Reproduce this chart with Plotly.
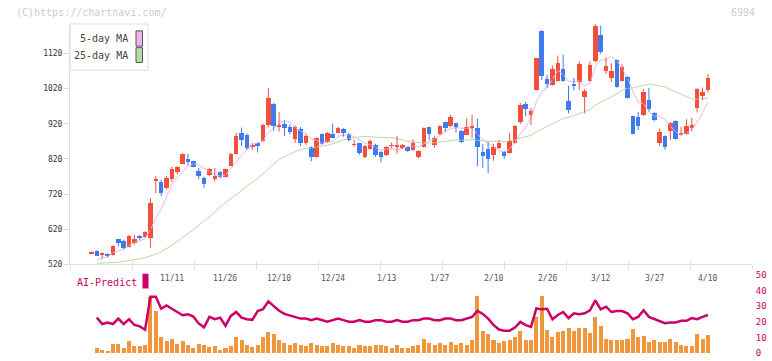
import plotly.graph_objects as go

# ---------------- data ----------------
idx = list(range(116))
opens = [552,559,549,549,546,591,587,570,580,600,598,596,759,755,737,762,782,807,821,813,
         787,767,773,762,783,770,800,835,893,889,856,864,871,916,977,911,919,911,878,905,
         865,854,826,890,868,890,895,906,892,860,865,825,849,861,840,831,857,854,852,854,
         846,825,854,910,859,890,924,913,921,900,889,909,907,840,847,832,851,840,837,866,
         925,977,944,1017,1185,1047,1031,1043,1077,985,1033,1038,995,1043,1099,1172,1071,1050,1101,1043,
         1053,941,938,945,988,952,866,885,899,928,888,891,907,964,998,1017]
highs = [556,560,554,551,574,593,590,603,604,603,614,708,771,761,771,798,800,836,834,815,
         795,770,794,794,785,793,837,895,909,892,865,866,920,1022,979,953,929,918,915,911,
         890,856,881,893,897,921,911,908,894,875,866,860,874,863,842,856,867,885,862,855,
         876,845,910,912,885,916,926,946,923,902,935,946,935,862,868,863,874,842,893,917,
         979,982,965,1108,1187,1060,1086,1114,1117,1028,1050,1098,1019,1098,1206,1199,1109,1092,1103,1089,
         1055,943,954,1019,1022,954,906,887,924,930,911,933,937,1021,1023,1061]
lows = [550,544,538,541,545,571,563,568,576,589,596,566,722,714,733,754,776,805,802,796,
        762,738,771,756,764,767,799,833,857,846,846,838,869,910,900,898,885,890,866,856,
        860,813,824,860,866,880,893,883,870,855,832,823,847,826,810,829,849,835,848,840,
        844,822,852,874,853,888,897,910,895,866,888,879,800,795,780,815,848,820,836,864,
        919,941,916,1015,1044,1022,1029,1040,1040,950,1015,1016,950,1040,1095,1119,1062,1039,1023,1040,
        992,890,902,942,955,927,857,846,874,875,886,889,898,952,987,1009]
closes = [554,545,553,543,573,580,566,601,593,595,611,694,764,722,766,790,798,834,811,798,
          772,748,792,772,770,791,835,886,874,851,858,858,918,994,913,915,907,898,910,865,
          886,825,879,862,893,881,908,893,873,862,837,858,872,831,825,854,859,860,859,843,
          865,842,907,890,879,914,907,938,910,868,912,911,854,829,820,854,865,827,872,915,
          974,961,957,1106,1057,1033,1075,1093,1043,959,1029,1090,1012,1087,1197,1125,1084,1069,1025,1082,
          994,891,914,1011,961,930,898,855,922,877,895,913,918,1019,1011,1050]
ma5 = [None,533,537,541,553.6,558.8,563.0,572.6,582.6,587.0,593.2,618.8,651.4,677.2,711.4,747.2,768.0,782.0,799.8,806.2,
       802.6,792.6,784.2,776.4,770.8,774.6,792.0,810.8,831.2,847.4,860.8,865.4,871.8,895.8,908.2,919.6,929.4,925.4,908.6,899.0,
       893.2,876.8,873.0,863.4,869.0,868.0,884.6,887.4,889.6,883.4,874.6,864.6,860.4,852.0,844.6,848.0,848.2,845.8,851.4,855.0,
       857.2,853.8,863.2,869.4,876.6,886.4,899.4,905.6,909.6,907.4,907.0,907.8,891.0,874.8,865.2,853.6,844.4,839.0,847.6,866.6,
       890.6,909.8,935.8,982.6,1011.0,1022.8,1045.6,1072.8,1060.2,1040.6,1039.8,1042.8,1026.6,1035.4,1083.0,1102.2,1101.0,1112.4,1100.0,1077.0,
       1050.8,1012.2,981.2,978.4,954.2,941.4,942.8,931.0,913.2,896.4,889.4,892.4,905.0,924.4,951.2,980.2]
ma25 = [None,523,523,524,525,526,528,530,533,536,539,543,549,556,564,574,585,596,607,619,
        631,643,655,668,684,695,706,718,730,742,753,765,778,793,806,818,827,833,841,846,
        850,851,853,855,859,863,869,874,878,881,883,884,884,882,881,881,881,878,873,870,
        868,866,866,865,866,867,870,872,874,873,875,875,873,871,870,870,871,869,871,874,
        879,883,887,897,905,912,921,929,935,938,943,950,953,960,973,982,989,997,1005,1016,
        1021,1022,1026,1031,1033,1031,1029,1025,1017,1010,1005,998,991,990,992,993]
volume = [0,3.0,1.9,1.3,5.5,5.5,3.0,7.4,4.2,4.0,5.0,35.9,26.4,10.1,7.4,8.6,5.7,7.4,4.9,2.8,
          5.3,4.9,3.8,4.2,1.7,3.0,4.4,9.9,8.0,4.9,3.8,4.9,10,13,12,8,6,5,6,5,
          4,6,5,4,4,6,5,4,4,3,5,4,4,5,5,4,3,5,3,3,
          4,5,9,6,5,6,5,7,5,6,5,8,36,14,12,8,6,7.4,8.0,10.1,
          13.6,8.0,8.0,22.7,36.3,14.3,10.1,13.2,13.8,15.7,13.6,15.7,15.7,12.6,23.1,17.0,8.6,8.0,8.0,8.0,
          8.6,14.9,10.1,10.5,6.7,8.0,6.7,6.7,8.6,6.7,4.8,4.2,4.2,11.8,8.6,11.1]
ai_predict = [None,22.6,18.5,19.5,18.5,22.0,18.5,21.6,17.9,17.0,14.9,36.0,36.0,28.3,30.4,28.3,26.2,24.1,24.8,23.3,
              18.9,16.4,23.1,21.6,22.6,17.4,23.7,26.2,22.6,21.6,21.2,26.8,28,33,30,27,25,24,23,22,
              22,21,22,21,20,21,22,21,20,20,21,20,20,21,21,20,20,21,20,20,
              21,21,22,22,21,21,22,22,21,21,22,23,27,25,22,18,15,14.3,14.3,16.3,
              19.9,17.8,16.7,28.5,27.9,28.3,21.6,24.3,26.2,22.3,25.4,24.8,25.4,27.3,33.6,27.9,29.6,26.2,26.8,26.8,
              25.4,21.6,23.1,27.3,23.1,21.6,20.6,19.1,19.5,19.5,20.6,20.6,22.3,21.6,23.1,24.3]
tick_idx = [15,25,35,45,55,65,75,85,95,105,115]
tick_labels = ['11/11','11/26','12/10','12/24','1/13','1/27','2/10','2/26','3/12','3/27','4/10']
price_ticks = [520,620,720,820,920,1020,1120]
sub_ticks = [0,10,20,30,40,50]

# ---------------- style ----------------
RED = '#f0503c'
BLUE = '#3f7bef'
ORANGE = '#f0963c'
CRIMSON = '#cc0066'
PINK = '#ecb4ec'
GREEN = '#b4dca4'
GRID = '#dddddd'
FONT = 'DejaVu Sans Mono'

W, H = 772, 361
ML, MR, MT, MB = 70, 20, 24, 3
PW, PH = W - ML - MR, H - MT - MB

def px(xp):
    return (xp - ML) / PW

def py(yp):
    return (H - MB - yp) / PH

XR = [-4.01, 123.23]
equal_ticks = [XR[0] + k * (XR[1] - XR[0]) / 11 for k in range(12)]

# candle geometry derived from the OHLC lists
body_base = [min(o, c) for o, c in zip(opens, closes)]
body_len = [max(abs(c - o), 1.5) for o, c in zip(opens, closes)]
body_col = [RED if c >= o else BLUE for o, c in zip(opens, closes)]

def wick_xy(up):
    xs, ys = [], []
    for i, o, h, l, c in zip(idx, opens, highs, lows, closes):
        if (c >= o) == up:
            xs += [i, i, None]
            ys += [l, h, None]
    return xs, ys

fig = go.Figure()
fig.add_trace(go.Scatter(x=idx, y=ma25, mode='lines', line=dict(color=GREEN, width=1),
                         name='25-day MA', hoverinfo='skip'))
fig.add_trace(go.Scatter(x=idx, y=ma5, mode='lines', line=dict(color=PINK, width=1),
                         name='5-day MA', hoverinfo='skip'))
for up, col in ((True, RED), (False, BLUE)):
    wx, wy = wick_xy(up)
    fig.add_trace(go.Scatter(x=wx, y=wy, mode='lines', line=dict(color=col, width=1),
                             hoverinfo='skip', name='range'))
fig.add_trace(go.Bar(x=idx, y=body_len, base=body_base, width=0.84,
                     marker=dict(color=body_col, line=dict(width=0)), name='6994'))
fig.add_trace(go.Bar(x=idx, y=volume, marker=dict(color=ORANGE, line=dict(width=0)), width=0.75,
                     xaxis='x2', yaxis='y2', name='volume'))
fig.add_trace(go.Scatter(x=idx, y=ai_predict, mode='lines', line=dict(color=CRIMSON, width=2.5),
                         xaxis='x2', yaxis='y2', name='AI-Predict'))
fig.add_trace(go.Scatter(x=[None], y=[None], xaxis='x3', yaxis='y', showlegend=False, hoverinfo='skip'))

main_bottom = py(268)
sub_top = py(272)
sub_range = [0, (358 - 272) / 1.588]

fig.update_layout(
    width=W, height=H, margin=dict(l=ML, r=MR, t=MT, b=MB),
    paper_bgcolor='white', plot_bgcolor='white', showlegend=False,
    barmode='overlay', bargap=0,
    font=dict(family=FONT, size=8, color='#444444'),
    xaxis=dict(domain=[0, 1], range=XR, anchor='y', showgrid=False, zeroline=False,
               showline=True, linecolor=GRID, linewidth=1, ticks='outside', ticklen=4,
               tickcolor=GRID, tickvals=equal_ticks, showticklabels=False, fixedrange=True),
    xaxis3=dict(overlaying='x', range=XR, anchor='y', showgrid=False, zeroline=False,
                showline=False, ticks='inside', ticklen=3, tickcolor=GRID,
                tickvals=equal_ticks, showticklabels=False, fixedrange=True),
    yaxis=dict(domain=[main_bottom, 1], range=[520, 1204], showgrid=False, zeroline=False,
               showline=True, linecolor=GRID, linewidth=1, ticks='outside', ticklen=5,
               tickcolor=GRID, tickvals=price_ticks, tickfont=dict(size=8, color='#333333'),
               fixedrange=True),
    xaxis2=dict(domain=[0, 1], range=XR, anchor='y2', visible=False, fixedrange=True),
    yaxis2=dict(domain=[0, sub_top], range=sub_range, side='right', anchor='x2',
                showgrid=False, zeroline=False, showline=False, ticks='outside', ticklen=1,
                tickcolor='rgba(0,0,0,0)', tickvals=sub_ticks,
                tickfont=dict(size=9, color=CRIMSON), fixedrange=True),
)

ann = []
ann.append(dict(text='(C)https://chartnavi.com/', x=px(14), y=py(12.5), xref='paper', yref='paper',
                xanchor='left', yanchor='middle', showarrow=False, font=dict(size=10, color='#cccccc')))
ann.append(dict(text='6994', x=px(757), y=py(12.5), xref='paper', yref='paper',
                xanchor='right', yanchor='middle', showarrow=False, font=dict(size=10, color='#cccccc')))
ann.append(dict(text='5-day MA', x=px(130), y=py(39), xref='paper', yref='paper',
                xanchor='right', yanchor='middle', showarrow=False, font=dict(size=10, color='#444444')))
ann.append(dict(text='25-day MA', x=px(130), y=py(56), xref='paper', yref='paper',
                xanchor='right', yanchor='middle', showarrow=False, font=dict(size=10, color='#444444')))
ann.append(dict(text='AI-Predict', x=px(75), y=py(286), xref='paper', yref='paper',
                xanchor='left', yanchor='middle', showarrow=False, font=dict(size=10, color=CRIMSON)))
for ti, tl in zip(tick_idx, tick_labels):
    ann.append(dict(text=tl, x=ti, y=py(282.5), xref='x', yref='paper', xanchor='center',
                    yanchor='middle', showarrow=False, font=dict(size=8, color='#555555')))

shapes = [
    dict(type='rect', xref='paper', yref='paper', x0=px(70), x1=px(148), y0=py(71), y1=py(24),
         line=dict(color=GRID, width=1), fillcolor='white', layer='above'),
    dict(type='rect', xref='paper', yref='paper', x0=px(136), x1=px(142.5), y0=py(46.5), y1=py(31),
         line=dict(color='#555555', width=1), fillcolor=PINK, layer='above'),
    dict(type='rect', xref='paper', yref='paper', x0=px(136), x1=px(142.5), y0=py(63), y1=py(48),
         line=dict(color='#555555', width=1), fillcolor=GREEN, layer='above'),
    dict(type='rect', xref='paper', yref='paper', x0=px(142.5), x1=px(148.5), y0=py(292.5), y1=py(277.5),
         line=dict(width=0), fillcolor=CRIMSON, layer='above'),
]
fig.update_layout(annotations=ann, shapes=shapes)

fig.write_html('out.html', config={'displayModeBar': False},
               post_script="document.body.style.margin='0px';")
